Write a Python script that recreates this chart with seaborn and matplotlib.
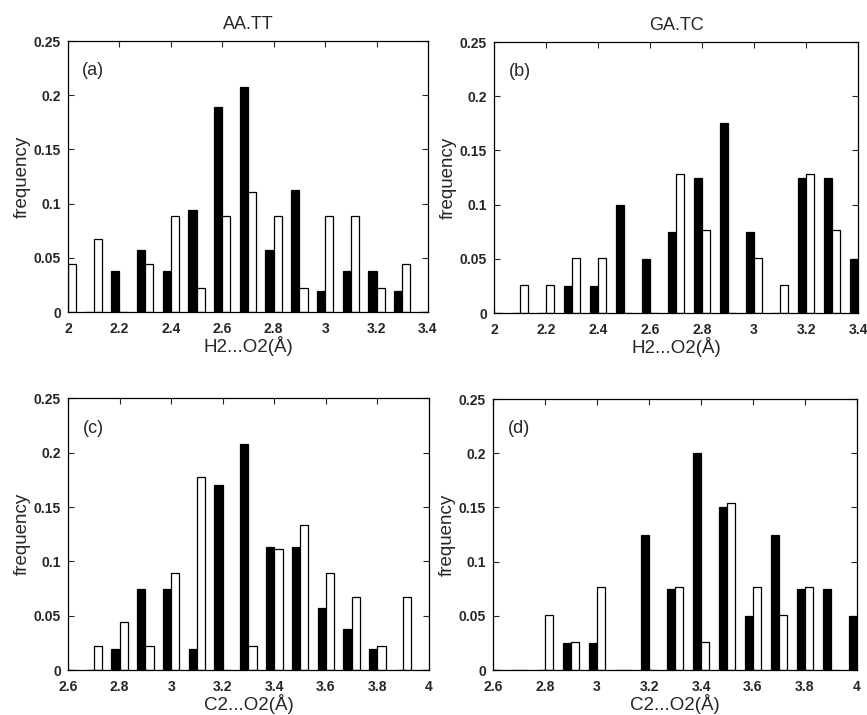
import seaborn as sns
import matplotlib.pyplot as plt
import matplotlib.ticker as mticker
import pandas as pd

# bin centres (Angstrom)
bins_h = [2.0, 2.1, 2.2, 2.3, 2.4, 2.5, 2.6, 2.7, 2.8, 2.9, 3.0, 3.1, 3.2, 3.3, 3.4]
bins_c = [2.6, 2.7, 2.8, 2.9, 3.0, 3.1, 3.2, 3.3, 3.4, 3.5, 3.6, 3.7, 3.8, 3.9, 4.0]

# (a) AA.TT  H2...O2
a_black = [0, 0, 0.038, 0.057, 0.038, 0.094, 0.189, 0.208, 0.057, 0.113, 0.019, 0.038, 0.038, 0.019, 0]
a_white = [0.044, 0.067, 0, 0.044, 0.089, 0.022, 0.089, 0.111, 0.089, 0.022, 0.089, 0.089, 0.022, 0.044, 0]
# (b) GA.TC  H2...O2
b_black = [0, 0, 0, 0.025, 0.025, 0.1, 0.05, 0.075, 0.125, 0.175, 0.075, 0, 0.125, 0.125, 0.05]
b_white = [0, 0.026, 0.026, 0.051, 0.051, 0, 0, 0.128, 0.077, 0, 0.051, 0.026, 0.128, 0.077, 0]
# (c) AA.TT  C2...O2
c_black = [0, 0, 0.019, 0.075, 0.075, 0.019, 0.170, 0.208, 0.113, 0.113, 0.057, 0.038, 0.019, 0, 0]
c_white = [0, 0.022, 0.044, 0.022, 0.089, 0.178, 0, 0.022, 0.111, 0.133, 0.089, 0.067, 0.022, 0.067, 0]
# (d) GA.TC  C2...O2
d_black = [0, 0, 0, 0.025, 0.025, 0, 0.125, 0.075, 0.2, 0.15, 0.05, 0.125, 0.075, 0.075, 0.05]
d_white = [0, 0, 0.051, 0.026, 0.077, 0, 0, 0.077, 0.026, 0.154, 0.077, 0.051, 0.077, 0, 0]

panels = [
    ('(a)', 'AA.TT', bins_h, a_black, a_white, 'H2...O2(Å)', (2.0, 3.4)),
    ('(b)', 'GA.TC', bins_h, b_black, b_white, 'H2...O2(Å)', (2.0, 3.4)),
    ('(c)', None, bins_c, c_black, c_white, 'C2...O2(Å)', (2.6, 4.0)),
    ('(d)', None, bins_c, d_black, d_white, 'C2...O2(Å)', (2.6, 4.0)),
]

sns.set_style('ticks')
plt.rcParams['font.family'] = ['Liberation Sans', 'DejaVu Sans']

fig = plt.figure(figsize=(8.67, 7.15), dpi=100)
positions = [
    [0.0784, 0.5636, 0.4152, 0.379],
    [0.5698, 0.5622, 0.4198, 0.379],
    [0.0784, 0.0629, 0.4164, 0.380],
    [0.5686, 0.0629, 0.4198, 0.3790],
]

for (tag, title, bins, blk, wht, xlab, xlim), pos in zip(panels, positions):
    ax = fig.add_axes(pos)
    df = pd.DataFrame({
        'bin': bins + bins,
        'frequency': blk + wht,
        'series': ['black'] * len(bins) + ['white'] * len(bins),
    })
    sns.barplot(data=df, x='bin', y='frequency', hue='series', native_scale=True,
                palette=['black', 'white'], edgecolor='black', linewidth=0.9,
                width=0.64, errorbar=None, legend=False, ax=ax)
    ax.set_xlim(*xlim)
    ax.set_ylim(0, 0.25)
    ax.xaxis.set_major_locator(mticker.MultipleLocator(0.2))
    ax.yaxis.set_major_locator(mticker.MultipleLocator(0.05))
    ax.xaxis.set_major_formatter(mticker.FormatStrFormatter('%g'))
    ax.yaxis.set_major_formatter(mticker.FuncFormatter(lambda v, p: '%g' % round(v, 3)))
    ax.tick_params(direction='in', top=True, right=True, length=4, width=0.8,
                   labelsize=10)
    ax.tick_params(axis='x', pad=7)
    ax.tick_params(axis='y', pad=5)
    for lbl in ax.get_xticklabels() + ax.get_yticklabels():
        lbl.set_fontweight('bold')
    for sp in ax.spines.values():
        sp.set_visible(True)
        sp.set_linewidth(0.9)
        sp.set_color('black')
    ax.set_xlabel(xlab, fontsize=13.5, labelpad=0)
    ax.set_ylabel('frequency', fontsize=13.5, labelpad=2)
    ax.text(0.04, 0.89, tag, transform=ax.transAxes, fontsize=13, ha='left', va='center')
    if title:
        ax.set_title(title, fontsize=13, pad=9)

fig.savefig('out.png', dpi=100)
